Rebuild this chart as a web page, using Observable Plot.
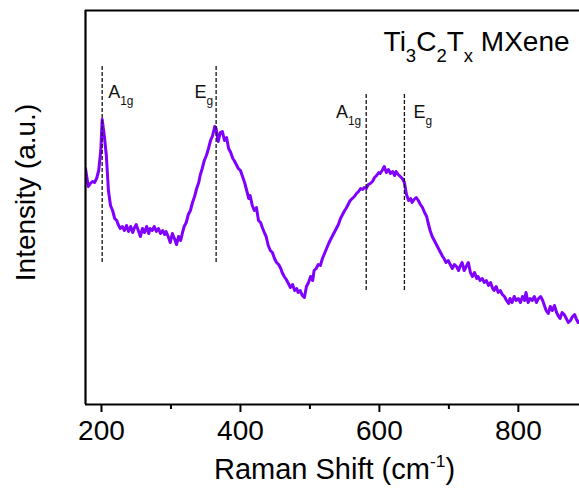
<!DOCTYPE html>
<html><head><meta charset="utf-8">
<script src="https://cdn.jsdelivr.net/npm/d3@7"></script>
<script src="https://cdn.jsdelivr.net/npm/@observablehq/plot@0.6"></script>
<style>html,body{margin:0;padding:0;background:#fff;overflow:hidden}</style>
</head><body><div id="chart"></div>
<script>
// Raman shift (cm^-1)
const ramanShift = [177,181,184,187,190,193,196,199,201,204,207,210,213,216,219,222,224,227,230,233,236,239,242,245,247,250,253,256,259,262,265,268,270,273,276,279,282,285,288,291,293,296,299,302,305,308,311,314,317,319,322,325,328,331,334,337,340,342,345,348,351,354,357,360,363,365,368,371,374,377,380,383,386,389,391,394,397,400,403,406,409,412,414,417,420,423,426,429,432,435,437,440,443,446,449,452,455,458,460,463,466,469,472,475,478,481,483,486,489,492,495,498,501,504,506,509,512,515,518,521,524,527,529,532,535,538,541,544,547,550,552,555,558,561,564,567,570,573,576,578,581,584,587,590,593,596,599,601,604,607,610,613,616,619,622,624,627,630,633,636,639,642,645,647,650,653,656,659,662,665,668,670,673,676,679,682,685,688,691,693,696,699,702,705,708,711,714,716,719,722,725,728,731,734,737,740,742,745,748,751,754,757,760,763,765,768,771,774,777,780,783,786,788,791,794,797,800,803,806,809,811,814,817,820,823,826,829,832,835,837,840,843,846,849,852,855,858,860,863,866,869,872,875,878,881,883,886,889];
// Intensity (a.u.)
const intensity = [236,218,221,223,222,226,234,254,285,269,249,214,199,194,186,184,180,176,178,174,179,173,178,172,176,180,174,168,176,172,178,171,176,174,178,173,176,171,174,170,173,168,162,171,166,160,168,164,173,178,182,190,194,202,208,216,222,229,236,244,249,256,264,269,278,276,263,272,273,264,267,256,252,246,244,240,236,234,228,222,214,206,209,199,194,197,184,182,176,171,168,159,154,152,146,142,140,136,132,128,125,121,117,120,114,116,112,114,109,107,118,122,128,124,134,136,140,139,146,151,156,161,164,168,172,176,180,186,190,194,196,200,204,206,208,211,213,216,215,217,216,220,221,223,227,229,232,231,234,238,232,235,231,233,229,233,230,228,226,222,210,204,206,202,205,207,204,200,197,192,188,182,174,168,164,160,156,152,148,146,142,144,140,136,140,138,134,138,142,134,138,142,132,128,132,126,128,124,126,122,124,119,122,116,114,118,112,114,110,108,104,101,106,102,108,104,106,102,108,104,112,102,106,104,108,102,106,108,104,100,94,91,98,94,99,92,88,86,92,90,86,82,84,88,90,86,82,84];

const peakShift = [201, 365, 581, 636];
const peakLabel = ["A_{1g}", "E_{g}", "A_{1g}", "E_{g}"];
const xTicks = [200, 400, 600, 800];
const xMinorTicks = [300, 500, 700];
const titleText = "Ti_{3}C_{2}T_{x} MXene";
const xLabel = "Raman Shift (cm^{-1})";
const yLabel = "Intensity (a.u.)";

const spectrum = ramanShift.map((x, i) => ({x, y: intensity[i]}));
const peaks = peakShift.map((x, i) => ({x, label: peakLabel[i]}));

// annotation layout (not data)
const peakLayout = [
  {textAnchor: "start", dx: 6, y: 307, y1: 142, y2: 338},
  {textAnchor: "end", dx: -3, y: 307, y1: 142, y2: 338},
  {textAnchor: "end", dx: -5, y: 287, y1: 114, y2: 310},
  {textAnchor: "start", dx: 9, y: 287, y1: 114, y2: 310}
];

const peakMarks = peaks.flatMap((p, i) => {
  const L = peakLayout[i];
  return [
    Plot.ruleX([p], {x: "x", y1: L.y1, y2: L.y2, stroke: "#111", strokeWidth: 1.3, strokeDasharray: "4,2"}),
    Plot.text([p], {x: "x", y: L.y, text: "label", textAnchor: L.textAnchor, dx: L.dx, lineAnchor: "bottom", fontSize: 18, fill: "#111"})
  ];
});

const svg = Plot.plot({
  width: 579,
  height: 489,
  marginLeft: 85,
  marginRight: 0,
  marginTop: 10,
  marginBottom: 85,
  style: {fontFamily: "'Liberation Sans', Arial, sans-serif", background: "#fff", color: "#000"},
  x: {domain: [177, 888], axis: null},
  y: {domain: [0, 394], axis: null},
  marks: [
    Plot.line(spectrum, {x: "x", y: "y", stroke: "#8000ff", strokeWidth: 3, clip: true}),
    ...peakMarks,
    Plot.ruleY([0, 394], {stroke: "#000", strokeWidth: 2}),
    Plot.ruleX([177], {stroke: "#000", strokeWidth: 2.2}),
    Plot.axisX({ticks: xTicks, tickSize: 8, tickPadding: 8, fontSize: 28, strokeWidth: 2, label: null}),
    Plot.axisX({ticks: xMinorTicks, tickSize: 5, tickFormat: () => "", strokeWidth: 2, label: null}),
    Plot.text([titleText], {text: d => d, x: 606, y: 354, textAnchor: "start", lineAnchor: "bottom", fontSize: 28}),
    Plot.text([xLabel], {text: d => d, frameAnchor: "bottom", dx: 2, dy: 74, lineAnchor: "bottom", fontSize: 29}),
    Plot.text([yLabel], {text: d => d, frameAnchor: "left", y: 212, dx: -51, rotate: -90, textAnchor: "middle", lineAnchor: "bottom", fontSize: 28})
  ]
});
document.getElementById("chart").append(svg);

// turn _{..} and ^{..} into real subscript / superscript tspans
const NS = "http://www.w3.org/2000/svg";
svg.querySelectorAll("text").forEach(el => {
  const s = el.textContent;
  if (!/[_^]\{/.test(s)) return;
  const fs = parseFloat(getComputedStyle(el).fontSize) || 16;
  const parts = s.split(/([_^]\{[^}]*\})/).filter(p => p.length);
  el.textContent = "";
  let cur = 0;
  for (const p of parts) {
    const ts = document.createElementNS(NS, "tspan");
    let target = 0, txt = p;
    if (p.startsWith("_{")) { target = fs * 0.42; txt = p.slice(2, -1); ts.setAttribute("font-size", (fs * 0.66).toFixed(1)); }
    else if (p.startsWith("^{")) { target = -fs * 0.4; txt = p.slice(2, -1); ts.setAttribute("font-size", (fs * 0.6).toFixed(1)); }
    if (target - cur !== 0) ts.setAttribute("dy", (target - cur).toFixed(1));
    cur = target;
    ts.textContent = txt;
    el.appendChild(ts);
  }
});
</script>
</body></html>
